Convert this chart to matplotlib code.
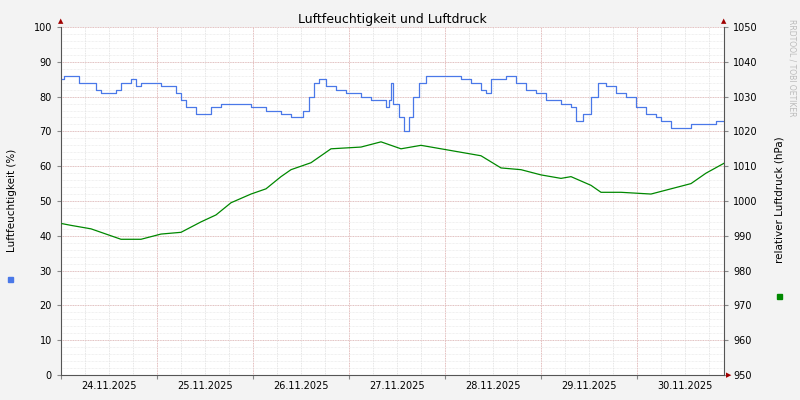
import matplotlib
matplotlib.use("Agg")
import matplotlib.pyplot as plt
import numpy as np

# humidity (x in pixel-hours: hours since 24.11 00:00), values %
hum_h = [0.25,0.75,4.5,8.75,10,13.75,15,17.5,18.75,20,22.5,25,28.75,30,31.25,33.75,37.5,40,47.5,51.25,55,57.5,60.5,62,63.25,64.5,66.25,68.75,71.25,75,77.5,81.25,82,82.5,83,84.5,85.75,87,88,89.5,91.25,100,102.5,105,106.25,107.5,111.25,113.75,116.25,118.75,121.25,125,127.5,128.75,130.5,132.5,134.25,136.25,138.75,141.25,143.75,146.25,148.75,150,152.5,157.5,160,163.75,166]
hum_v = [85,86,84,82,81,82,84,85,83,84,84,83,81,79,77,75,77,78,77,76,75,74,76,80,84,85,83,82,81,80,79,77,79,84,78,74,70,74,80,84,86,85,84,82,81,85,86,84,82,81,79,78,77,73,75,80,84,83,81,80,77,75,74,73,71,72,72,73,73]
# pressure, hPa
pr_h = [0.25,2.5,7.5,15,20,25,30,35,38.75,42.5,47.5,51.25,55,57.5,62.5,67.5,75,80,85,90,95,100,105,110,115,120,125,127.5,132.5,135,140,147.5,152.5,157.5,161.25,166]
pr_v = [993.5,993,992,989,989,990.5,991,994,996,999.5,1002,1003.5,1007,1009,1011,1015,1015.5,1017,1015,1016,1015,1014,1013,1009.5,1009,1007.5,1006.5,1007,1004.5,1002.5,1002.5,1002,1003.5,1005,1008,1011]
day_labels = ["24.11.2025","25.11.2025","26.11.2025","27.11.2025","28.11.2025","29.11.2025","30.11.2025"]

fig = plt.figure(figsize=(8,4), dpi=100, facecolor="#F3F3F3")
ax = fig.add_axes([61/800, 25/400, 663/800, 348/400])
ax.set_facecolor("white")
xmax = 663/4
ax.set_xlim(0, xmax); ax.set_ylim(0, 100)
ax2 = ax.twinx(); ax2.set_ylim(950, 1050)

ax.set_xticks(np.arange(0, xmax, 24), labels=[])
ax.set_xticks(np.arange(12, xmax, 24), minor=True, labels=day_labels, fontsize=7)
ax.tick_params(axis="x", which="minor", length=0, pad=4)
ax.tick_params(axis="x", which="major", length=3, color="#888")
for x in np.arange(0, xmax, 6):
    ax.axvline(x, color="#DDDDDD", lw=0.6, ls=(0,(1,1)), zorder=0)
for x in np.arange(24, xmax, 24):
    ax.axvline(x, color="#E8B0B0", lw=0.6, ls=(0,(1,1)), zorder=0)
for y in np.arange(0, 101, 2):
    ax.axhline(y, color="#E4E4E4", lw=0.5, ls=(0,(1,1)), zorder=0)
for y in np.arange(0, 101, 10):
    ax.axhline(y, color="#E0B0B0", lw=0.6, ls=(0,(1,1)), zorder=0)
ax.set_yticks(np.arange(0, 101, 10))
ax.tick_params(axis="y", labelsize=7, length=3, color="#888")
ax2.set_yticks(np.arange(950, 1051, 10))
ax2.tick_params(axis="y", labelsize=7, length=3, color="#888")
for a in (ax, ax2):
    for s in a.spines.values(): s.set_visible(False)
ax.spines["bottom"].set_visible(True); ax.spines["left"].set_visible(True)
ax2.spines["right"].set_visible(True)
for s in (ax.spines["bottom"], ax.spines["left"], ax2.spines["right"]): s.set_color("#555"); s.set_linewidth(0.8)

ax.step(hum_h, hum_v, where="post", color="#4A78E8", lw=0.9, zorder=3)
ax2.plot(pr_h, pr_v, color="#008800", lw=0.9, zorder=3)

ax.set_title("Luftfeuchtigkeit und Luftdruck", fontsize=9, pad=3)
fig.text(12/800, 0.5, "Luftfeuchtigkeit (%)", rotation=90, va="center", ha="center", fontsize=7.5)
fig.text(779/800, 0.5, "relativer Luftdruck (hPa)", rotation=90, va="center", ha="center", fontsize=7.5)
fig.text(792/800, 0.83, "RRDTOOL / TOBI OETIKER", rotation=270, va="center", ha="center", fontsize=5.5, color="#BBBBBB")
fig.patches.append(plt.Rectangle((8/800, 1-282/400), 5/800, 5/400, transform=fig.transFigure, color="#4A78E8"))
fig.patches.append(plt.Rectangle((777/800, 1-299/400), 5/800, 5/400, transform=fig.transFigure, color="#008800"))
for xp in (61, 724):
    fig.text(xp/800, 1-21/400, "▲", color="#A00000", fontsize=5, ha="center", va="center")
fig.text(729/800, 1-375/400, "▶", color="#A00000", fontsize=5, ha="center", va="center")
fig.savefig("out.png", dpi=100, facecolor=fig.get_facecolor())
